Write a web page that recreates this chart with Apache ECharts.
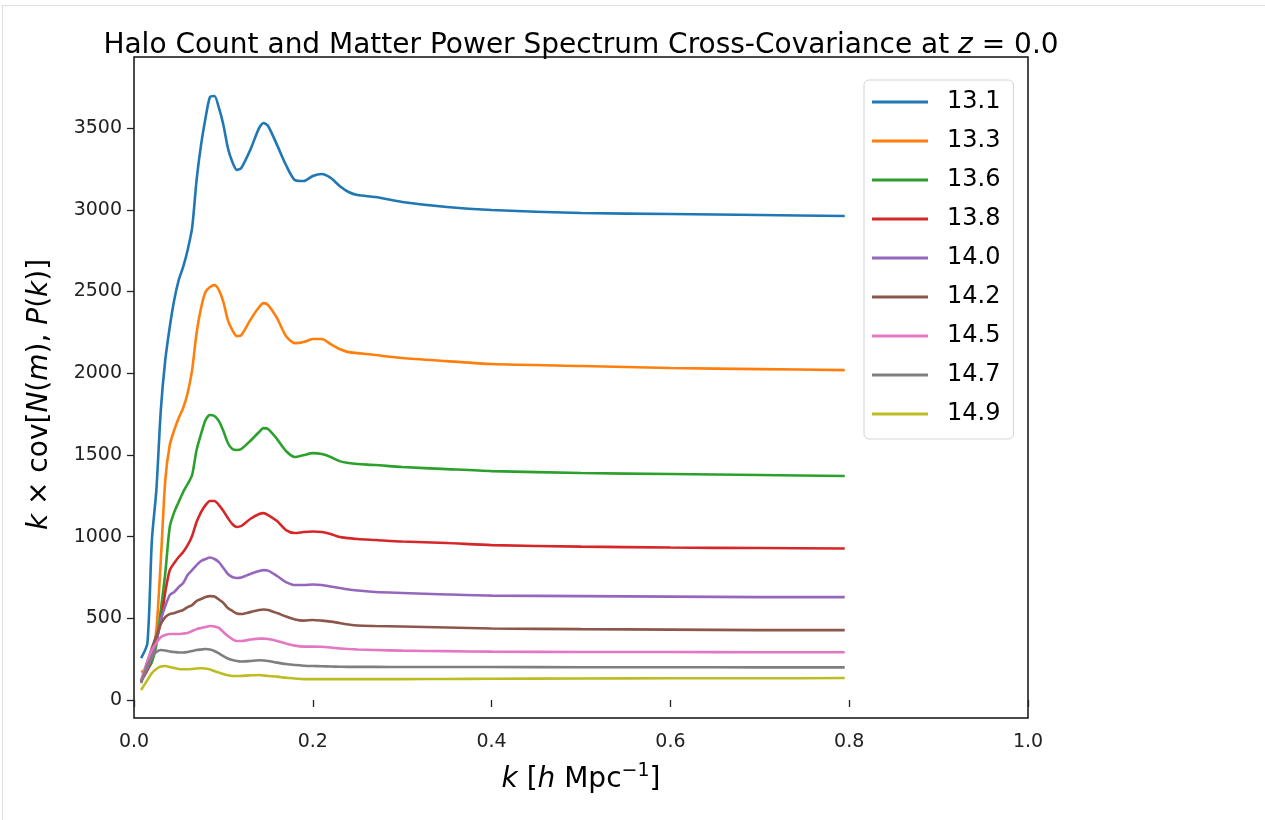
<!DOCTYPE html>
<html>
<head>
<meta charset="utf-8">
<title>Halo Count and Matter Power Spectrum Cross-Covariance</title>
<script src="https://cdn.jsdelivr.net/npm/echarts@6/dist/echarts.min.js"></script>
<style>
  html, body { margin: 0; padding: 0; background: #fff; }
  #main { width: 1265px; height: 820px; }
  #frame { position: absolute; left: 2px; top: 5px; right: 0; bottom: 0;
           border-left: 1px solid #e0e0e0; border-top: 1px solid #e0e0e0; pointer-events: none; }
</style>
</head>
<body>
<div id="main"></div>
<div id="frame"></div>
<script>
var kVals = [0.008, 0.015, 0.02, 0.025, 0.03, 0.035, 0.04, 0.045, 0.05, 0.055,
             0.06, 0.065, 0.07, 0.075, 0.08, 0.085, 0.09, 0.095, 0.1, 0.105,
             0.11, 0.115, 0.12, 0.13, 0.14, 0.145, 0.15, 0.16, 0.17, 0.18,
             0.19, 0.2, 0.21, 0.22, 0.23, 0.24, 0.25, 0.27, 0.3, 0.35,
             0.4, 0.5, 0.6, 0.7, 0.795];

var massLabels = ['13.1', '13.3', '13.6', '13.8', '14.0', '14.2', '14.5', '14.7', '14.9'];

var m131 = [257, 349, 979, 1285, 1775, 2081, 2283, 2448, 2570, 2650,
            2754, 2889, 3182, 3397, 3562, 3690, 3696, 3623, 3519, 3378,
            3293, 3244, 3256, 3366, 3501, 3531, 3513, 3397, 3274, 3182,
            3176, 3207, 3219, 3195, 3146, 3109, 3090, 3078, 3048, 3017,
            2999, 2980, 2974, 2968, 2962];
var m133 = [171, 196, 275, 428, 857, 1346, 1560, 1652, 1726, 1787,
            1879, 2019, 2246, 2399, 2497, 2527, 2539, 2509, 2435, 2325,
            2264, 2227, 2233, 2325, 2405, 2429, 2417, 2337, 2227, 2184,
            2191, 2209, 2209, 2178, 2148, 2129, 2123, 2111, 2093, 2074,
            2056, 2044, 2032, 2025, 2019];
var m136 = [122, 184, 233, 337, 551, 777, 1059, 1150, 1212, 1273,
            1322, 1377, 1530, 1628, 1713, 1744, 1738, 1707, 1646, 1573,
            1536, 1530, 1536, 1585, 1640, 1664, 1658, 1597, 1524, 1487,
            1499, 1511, 1505, 1487, 1462, 1450, 1444, 1438, 1426, 1413,
            1401, 1389, 1383, 1377, 1371];
var m138 = [116, 184, 263, 367, 477, 661, 795, 838, 875, 906,
            948, 1004, 1089, 1150, 1193, 1218, 1218, 1193, 1157, 1114,
            1077, 1059, 1065, 1108, 1138, 1144, 1132, 1095, 1040, 1022,
            1028, 1031, 1028, 1016, 997, 991, 985, 979, 970, 961,
            948, 939, 933, 930, 927];
var m140 = [116, 196, 263, 361, 490, 575, 642, 661, 691, 716,
            765, 795, 826, 851, 863, 872, 863, 844, 808, 771,
            753, 747, 750, 771, 789, 795, 792, 759, 722, 704,
            704, 707, 704, 695, 685, 676, 670, 661, 655, 646,
            639, 636, 633, 630, 630];
var m142 = [110, 233, 318, 392, 465, 508, 526, 532, 542, 551,
            569, 581, 606, 618, 630, 636, 633, 615, 594, 563,
            545, 529, 526, 538, 551, 554, 551, 532, 511, 493,
            486, 490, 486, 480, 471, 462, 456, 453, 450, 444,
            438, 434, 431, 428, 428];
var m145 = [122, 239, 306, 349, 385, 398, 404, 404, 404, 407,
            410, 422, 434, 441, 447, 453, 450, 441, 416, 392,
            373, 361, 361, 370, 376, 376, 373, 361, 346, 333,
            327, 327, 326, 321, 316, 312, 309, 306, 302, 299,
            296, 294, 294, 292, 292];
var m147 = [104, 214, 263, 294, 306, 303, 297, 294, 291, 291,
            294, 300, 306, 309, 312, 309, 300, 285, 269, 254,
            245, 239, 236, 239, 243, 242, 239, 229, 220, 214,
            210, 208, 207, 205, 204, 203, 203, 203, 202, 202,
            202, 201, 201, 200, 200];
var m149 = [61, 122, 165, 190, 205, 208, 202, 196, 190, 188,
            188, 190, 193, 194, 193, 187, 177, 168, 159, 151,
            147, 147, 148, 151, 153, 150, 147, 143, 136, 132,
            128, 128, 128, 128, 128, 128, 128, 128, 128, 129,
            130, 132, 133, 133, 135];

var xTicks = [0, 0.2, 0.4, 0.6, 0.8, 1.0];
var yTicks = [0, 500, 1000, 1500, 2000, 2500, 3000, 3500];

var allSeries = [m131, m133, m136, m138, m140, m142, m145, m147, m149];
var colors = ['#1f77b4', '#ff7f0e', '#2ca02c', '#d62728', '#9467bd',
              '#8c564b', '#e377c2', '#7f7f7f', '#bcbd22'];

var font = 'DejaVu Sans';

var chart = echarts.init(document.getElementById('main'), null, { renderer: 'canvas' });

var series = allSeries.map(function (vals, i) {
    return {
        name: massLabels[i],
        type: 'line',
        showSymbol: false,
        symbol: 'none',
        smooth: 0.25,
        lineStyle: { width: 2.6, color: colors[i] },
        itemStyle: { color: colors[i] },
        data: vals.map(function (v, j) { return [kVals[j], v]; })
    };
});

var option = {
    animation: false,
    backgroundColor: 'transparent',
    title: {
        text: 'Halo Count and Matter Power Spectrum Cross-Covariance at {i|z} = 0.0',
        left: 581,
        top: 32,
        padding: 0,
        textAlign: 'center',
        textStyle: {
            fontFamily: font,
            fontSize: 28,
            fontWeight: 'normal',
            color: '#000',
            rich: {
                i: { fontFamily: font, fontStyle: 'italic', fontSize: 28, color: '#000' }
            }
        }
    },
    legend: {
        orient: 'vertical',
        left: 864,
        top: 80,
        padding: [10, 13, 13, 8],
        itemGap: 15,
        itemWidth: 56,
        itemHeight: 3,
        icon: 'rect',
        backgroundColor: '#fff',
        borderColor: '#d4d4d4',
        borderWidth: 1,
        borderRadius: 5,
        data: massLabels,
        textStyle: {
            fontFamily: font,
            fontSize: 24,
            lineHeight: 24,
            color: '#000',
            padding: [0, 0, 0, 14]
        }
    },
    grid: {
        left: 134,
        top: 57,
        width: 894,
        height: 661,
        show: true,
        borderColor: '#111',
        borderWidth: 1.5,
        backgroundColor: 'transparent'
    },
    xAxis: {
        type: 'value',
        min: 0,
        max: 1,
        interval: 0.2,
        name: '{i|k} [{i|h} Mpc{sup|\u22121}]',
        nameLocation: 'middle',
        nameGap: 44,
        nameTextStyle: {
            fontFamily: font,
            fontSize: 28,
            color: '#000',
            rich: {
                i: { fontFamily: font, fontStyle: 'italic', fontSize: 28, lineHeight: 36, color: '#000' },
                sup: { fontFamily: font, fontSize: 19, verticalAlign: 'top', lineHeight: 20, color: '#000' }
            }
        },
        axisLine: { show: false },
        axisTick: { show: true, inside: false, length: 7, lineStyle: { color: '#222', width: 1.3 } },
        axisLabel: {
            margin: 15,
            fontFamily: font,
            fontSize: 19,
            color: '#222',
            formatter: function (v) { return v.toFixed(1); }
        },
        splitLine: { show: false }
    },
    yAxis: {
        type: 'value',
        min: -110,
        max: 3935,
        name: '{i|k} \u00d7 cov[{i|N}({i|m}), {i|P}({i|k})]',
        nameLocation: 'middle',
        nameRotate: 90,
        nameGap: 80,
        nameTextStyle: {
            fontFamily: font,
            fontSize: 28,
            color: '#000',
            padding: [0, 14, 0, 0],
            rich: {
                i: { fontFamily: font, fontStyle: 'italic', fontSize: 28, color: '#000' }
            }
        },
        axisLine: { show: false },
        axisTick: { show: true, inside: false, length: 7, customValues: yTicks, lineStyle: { color: '#222', width: 1.3 } },
        axisLabel: {
            margin: 12,
            fontFamily: font,
            fontSize: 19,
            color: '#222',
            customValues: yTicks,
            formatter: function (v) { return String(v); }
        },
        splitLine: { show: false }
    },
    series: series
};

chart.setOption(option);
</script>
</body>
</html>
